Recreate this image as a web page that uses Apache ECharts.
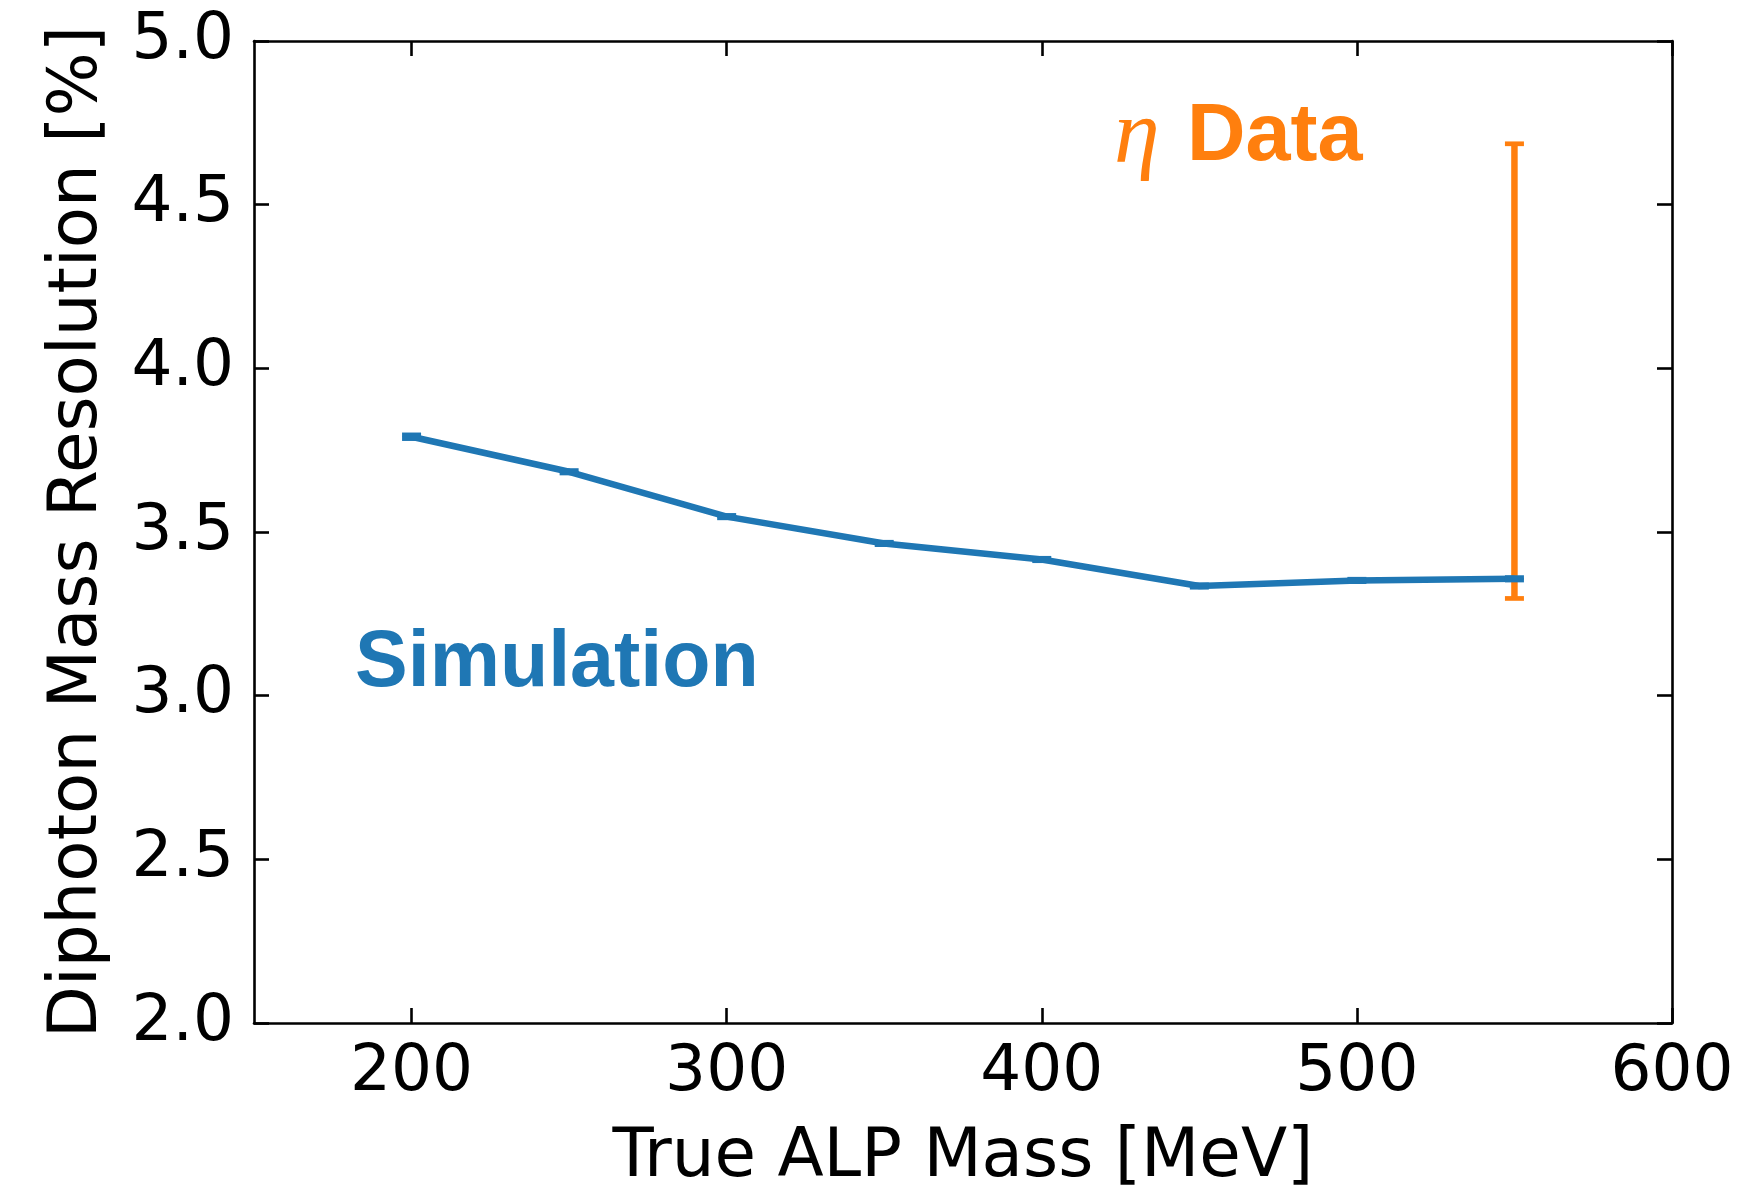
<!DOCTYPE html>
<html>
<head>
<meta charset="utf-8">
<script src="https://cdn.jsdelivr.net/npm/echarts@6/dist/echarts.min.js"></script>
<style>
html, body { margin: 0; padding: 0; background: #fff; }
#main { width: 1748px; height: 1191px; }
</style>
</head>
<body>
<div id="main"></div>
<script>
var myChart = echarts.init(document.getElementById("main"));

// simulation points (true ALP mass in MeV, resolution in %)
var simMass = [200, 250, 300, 350, 400, 450, 500, 550];
var simRes = [3.791, 3.684, 3.547, 3.465, 3.416, 3.335, 3.352, 3.357];
var simErr = [0.006, 0.004, 0.004, 0.004, 0.004, 0.004, 0.004, 0.004];

// eta data band
var etaMass = [550];
var etaLow = [3.297];
var etaHigh = [4.686];

var xTicks = [200, 300, 400, 500, 600];

var BLUE = '#1f77b4',
    ORANGE = '#ff7f0e';
var FONT = '"DejaVu Sans", sans-serif';

var simLine = simMass.map(function (m, i) { return [m, simRes[i]]; });
var simBars = simMass.map(function (m, i) { return [m, simRes[i] - simErr[i], simRes[i] + simErr[i]]; });
var etaBars = etaMass.map(function (m, i) { return [m, etaLow[i], etaHigh[i]]; });

// error bar with caps
var errorBar = function (color, lineW, capW, capLineW) {
    return function (params, api) {
        var lo = api.coord([api.value(0), api.value(1)]);
        var hi = api.coord([api.value(0), api.value(2)]);
        var children = [{
            type: 'line',
            shape: { x1: lo[0], y1: lo[1], x2: hi[0], y2: hi[1] },
            style: { stroke: color, lineWidth: lineW }
        }];
        [lo, hi].forEach(function (p) {
            children.push({
                type: 'line',
                shape: { x1: p[0] - capW / 2, y1: p[1], x2: p[0] + capW / 2, y2: p[1] },
                style: { stroke: color, lineWidth: capLineW }
            });
        });
        return { type: 'group', children: children };
    };
};

var axisCommon = {
    axisLine: { show: true, lineStyle: { color: '#000', width: 2.6 } },
    splitLine: { show: false }
};

var option = {
    backgroundColor: '#fff',
    animation: false,
    grid: { left: 254, right: 76, top: 41, bottom: 168, containLabel: false, outerBoundsMode: 'none' },
    xAxis: [
        Object.assign({}, axisCommon, {
            type: 'value', min: 150, max: 600, position: 'bottom',
            name: 'True ALP Mass [MeV]', nameLocation: 'middle', nameGap: 101,
            nameTextStyle: { fontSize: 67.5, fontFamily: FONT, color: '#000' },
            axisTick: { inside: true, length: 15, lineStyle: { color: '#000', width: 2.6 }, customValues: xTicks },
            axisLabel: { margin: 18, fontSize: 64.5, fontFamily: FONT, color: '#000', customValues: xTicks }
        }),
        Object.assign({}, axisCommon, {
            type: 'value', min: 150, max: 600, position: 'top',
            axisTick: { inside: true, length: 15, lineStyle: { color: '#000', width: 2.6 }, customValues: xTicks },
            axisLabel: { show: false }
        })
    ],
    yAxis: [
        Object.assign({}, axisCommon, {
            type: 'value', min: 2, max: 5, interval: 0.5, position: 'left',
            name: 'Diphoton Mass Resolution [%]', nameLocation: 'middle', nameGap: 142,
            nameTextStyle: { fontSize: 67.5, fontFamily: FONT, color: '#000' },
            axisTick: { inside: true, length: 15, lineStyle: { color: '#000', width: 2.6 } },
            axisLabel: {
                margin: 20, fontSize: 64.5, fontFamily: FONT, color: '#000',
                formatter: function (v) { return v.toFixed(1); }
            }
        }),
        Object.assign({}, axisCommon, {
            type: 'value', min: 2, max: 5, interval: 0.5, position: 'right',
            axisTick: { inside: true, length: 15, lineStyle: { color: '#000', width: 2.6 } },
            axisLabel: { show: false }
        })
    ],
    graphic: [
        {
            type: 'text', left: 355, top: 625,
            style: { text: 'Simulation', font: 'bold 79px "Liberation Sans", Arial, sans-serif', fill: BLUE }
        },
        {
            type: 'text', left: 1114, top: 92,
            style: { text: 'η', font: 'italic 92px "Liberation Serif", serif', fill: ORANGE }
        },
        {
            type: 'text', left: 1187, top: 97,
            style: { text: 'Data', font: 'bold 81px "Liberation Sans", Arial, sans-serif', fill: ORANGE }
        }
    ],
    series: [
        {
            type: 'custom',
            name: 'eta data',
            z: 1,
            renderItem: errorBar(ORANGE, 6.5, 19, 4.7),
            data: etaBars
        },
        {
            type: 'line',
            name: 'Simulation',
            z: 2,
            showSymbol: false,
            lineStyle: { color: BLUE, width: 6.5 },
            data: simLine
        },
        {
            type: 'custom',
            name: 'sim err',
            z: 3,
            renderItem: errorBar(BLUE, 4.5, 19, 4.5),
            data: simBars
        }
    ]
};

myChart.setOption(option);
</script>
</body>
</html>
